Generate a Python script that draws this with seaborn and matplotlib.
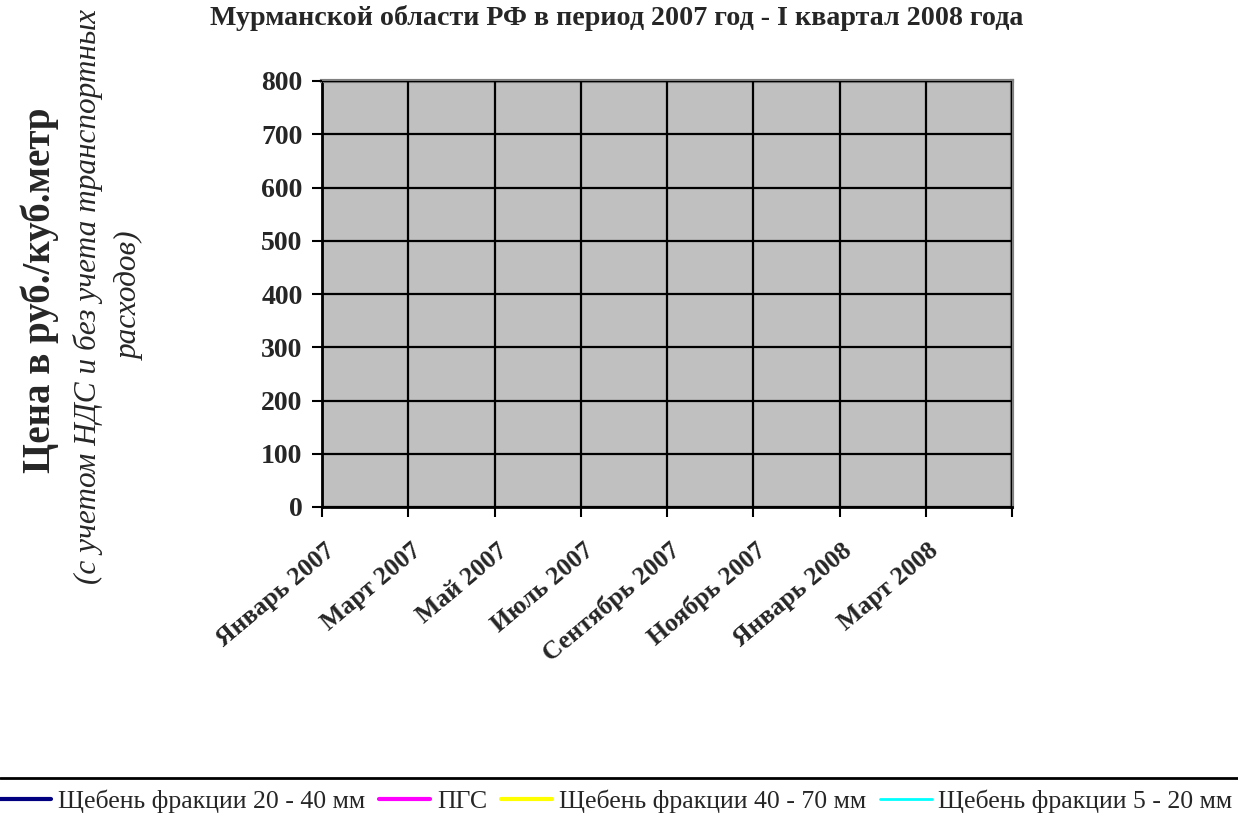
import numpy as np
import seaborn as sns
import matplotlib.pyplot as plt
from matplotlib.lines import Line2D

# categories: months Jan 2007 .. Apr 2008
months = ['Январь 2007', 'Февраль 2007', 'Март 2007', 'Апрель 2007', 'Май 2007',
          'Июнь 2007', 'Июль 2007', 'Август 2007', 'Сентябрь 2007', 'Октябрь 2007',
          'Ноябрь 2007', 'Декабрь 2007', 'Январь 2008', 'Февраль 2008', 'Март 2008',
          'Апрель 2008']
tick_labels = ['Январь 2007', 'Март 2007', 'Май 2007', 'Июль 2007',
               'Сентябрь 2007', 'Ноябрь 2007', 'Январь 2008', 'Март 2008']
y_ticks = [0, 100, 200, 300, 400, 500, 600, 700, 800]

# the source chart shows no values for any series
nan = np.nan
sheben_20_40 = [nan, nan, nan, nan, nan, nan, nan, nan, nan, nan, nan, nan, nan, nan, nan, nan]
pgs = [nan, nan, nan, nan, nan, nan, nan, nan, nan, nan, nan, nan, nan, nan, nan, nan]
sheben_40_70 = [nan, nan, nan, nan, nan, nan, nan, nan, nan, nan, nan, nan, nan, nan, nan, nan]
sheben_5_20 = [nan, nan, nan, nan, nan, nan, nan, nan, nan, nan, nan, nan, nan, nan, nan, nan]

series = [
    ('Щебень фракции 20 - 40 мм', sheben_20_40, '#000080', 3),
    ('ПГС', pgs, '#FF00FF', 3),
    ('Щебень фракции 40 - 70 мм', sheben_40_70, '#FFFF00', 3),
    ('Щебень фракции 5 - 20 мм', sheben_5_20, '#00FFFF', 2),
]

sns.set_style('white')
plt.rcParams['font.family'] = ['Liberation Serif', 'DejaVu Serif']

fig = plt.figure(figsize=(12.38, 8.19), dpi=100)
ax = fig.add_axes([322 / 1238, 1 - 507 / 819, 690 / 1238, 426 / 819])
ax.set_facecolor('#C0C0C0')

x = np.arange(len(months))
for name, vals, col, lw in series:
    ax.plot(x, vals, color=col, lw=lw, label=name)

ax.set_xlim(-0.5, len(months) - 0.5)
ax.set_ylim(0, 800)
ax.set_yticks(y_ticks)
ax.set_yticklabels([str(v) for v in y_ticks], fontweight='bold', fontsize=20)

bounds = np.arange(-0.5, len(months), 2)
ax.set_xticks(bounds)
ax.set_xticklabels([])
# labels sit a little left of the category centre, like the Excel original
ax.set_xticks(x[::2] - 0.45, minor=True)
ax.set_xticklabels(tick_labels, minor=True, rotation=40, ha='right', va='top',
                   rotation_mode='anchor', fontweight='bold', fontsize=18.5)
ax.tick_params(axis='x', which='minor', length=0, pad=23)
ax.tick_params(axis='x', which='major', direction='out', length=7, width=1.5,
               color='black', bottom=True)
ax.tick_params(axis='y', direction='out', length=7, width=1.5, color='black',
               left=True, pad=7)

ax.grid(True, which='major', color='black', lw=1.6)
ax.set_axisbelow(False)
for side in ['left', 'bottom']:
    ax.spines[side].set_color('black')
    ax.spines[side].set_linewidth(2)
for side in ['top', 'right']:
    ax.spines[side].set_color('#808080')
    ax.spines[side].set_linewidth(3)

fig.text(617 / 1238, 1 - 18 / 819, 'Мурманской области РФ в период 2007 год - I квартал 2008 года',
         ha='center', va='center', fontweight='bold', fontsize=20.2)

fig.text(40 / 1238, 1 - 290 / 819, 'Цена в руб./куб.метр', rotation=90,
         ha='center', va='center', fontweight='bold', fontsize=28)
fig.text(109 / 1238, 1 - 296 / 819, '(с учетом НДС и без учета транспортных\nрасходов)',
         rotation=90, ha='center', va='center', style='italic', fontsize=22.5,
         multialignment='center', linespacing=1.55)

fig.add_artist(Line2D([0, 1], [1 - 778 / 819, 1 - 778 / 819], color='black', lw=2))
handles, labels = ax.get_legend_handles_labels()
fig.legend(handles, labels, loc='center', bbox_to_anchor=(616 / 1238, 1 - 801 / 819), ncol=4,
           frameon=False, fontsize=18.5, handlelength=2.0, handletextpad=0.25,
           columnspacing=0.55)

fig.savefig('out.png', dpi=100)
